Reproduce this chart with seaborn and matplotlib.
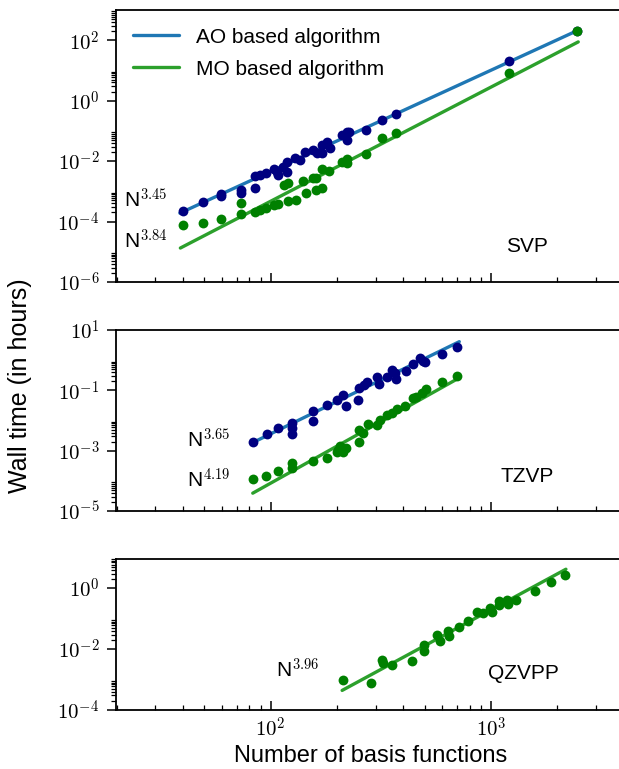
import numpy as np
import pandas as pd
import matplotlib
matplotlib.use("Agg")
import matplotlib.pyplot as plt
import seaborn as sns
from matplotlib.ticker import FuncFormatter, FixedLocator

# ---- data (N = basis functions, t = wall time in hours) ----
svp_ao_n = [39.8, 49.4, 59.5, 59.5, 73.3, 73.3, 84.9, 84.9, 89.4, 94.9, 103.5, 107.1, 108.3, 114,
            119, 119, 128.8, 135.8, 143.2, 156.1, 161.7, 170.4, 170.4, 179.6, 185.9, 210, 221.2,
            221.2, 226.6, 270.8, 319.9, 370.4, 1207, 2449]
svp_ao_t = [2.3e-4, 4.6e-4, 8.1e-4, 6.8e-4, 1.12e-3, 8.7e-4, 3.1e-3, 1.28e-3, 3.5e-3, 4.0e-3,
            5.5e-3, 4.5e-3, 3.5e-3, 6.6e-3, 9.5e-3, 4.3e-3, 1.25e-2, 1.1e-2, 2.05e-2, 2.35e-2,
            1.8e-2, 3.4e-2, 1.8e-2, 4.2e-2, 2.7e-2, 7.3e-2, 9.4e-2, 5.0e-2, 9.0e-2, 1.07e-1,
            2.3e-1, 3.6e-1, 21.0, 198.0]
svp_mo_n = [39.8, 49.4, 59.5, 73.3, 73.3, 84.9, 89.4, 94.9, 103.5, 108.3, 114.9, 120.1, 120.1,
            130.2, 139.8, 144.6, 155.1, 160.0, 160.6, 170.4, 170.4, 184.5, 210, 221.2, 221.2,
            270.8, 319.9, 370.4, 1207, 2449]
svp_mo_t = [7.8e-5, 8.9e-5, 1.2e-4, 1.78e-4, 4.1e-4, 2.05e-4, 2.45e-4, 2.8e-4, 3.4e-4, 3.8e-4,
            1.64e-3, 1.86e-3, 4.9e-4, 5.2e-4, 2.2e-3, 8.7e-4, 2.75e-3, 2.75e-3, 1.12e-3, 1.29e-3,
            5.5e-3, 4.75e-3, 9.6e-3, 1.18e-2, 8.5e-3, 1.7e-2, 5.7e-2, 8.7e-2, 8.3, 198.0]

tzvp_ao_n = [83.4, 95.9, 107.6, 124.5, 124.5, 124.5, 155.1, 155.1, 180.8, 199.4, 213.8, 219.9,
             249.9, 252.6, 265.2, 272.9, 302.9, 311.2, 336.3, 354.2, 366.7, 370.4, 410.1, 441.2,
             476.4, 489.8, 501.4, 601.2, 703.1]
tzvp_ao_t = [2.0e-3, 3.6e-3, 5.6e-3, 8.1e-3, 5.6e-3, 3.5e-3, 2.1e-2, 9.8e-3, 3.3e-2, 4.8e-2,
             7.1e-2, 3.1e-2, 4.8e-2, 1.17e-1, 1.5e-1, 1.95e-1, 2.8e-1, 1.6e-1, 2.8e-1, 4.8e-1,
             3.7e-1, 2.4e-1, 4.4e-1, 7.2e-1, 1.2, 0.93, 0.89, 1.6, 2.7]
tzvp_mo_n = [83.4, 95.3, 107.6, 124.5, 124.5, 155.1, 180.8, 199.4, 202.8, 206.5, 213.8, 219.9,
             252.6, 252.6, 263.3, 275.7, 302.9, 313.4, 336.3, 354.2, 373.3, 407.4, 441.2, 456.6,
             484.7, 507.0, 601.2, 703.1]
tzvp_mo_t = [1.17e-4, 1.5e-4, 2.2e-4, 3.9e-4, 2.75e-4, 4.4e-4, 5.9e-4, 9.3e-4, 1.07e-3, 1.38e-3,
             9.3e-4, 1.2e-3, 2.0e-3, 4.9e-3, 3.8e-3, 7.6e-3, 7.1e-3, 1.05e-2, 1.55e-2, 1.74e-2,
             2.4e-2, 3.1e-2, 5.75e-2, 6.2e-2, 7.9e-2, 1.12e-1, 1.86e-1, 3.1e-1]

qzvpp_n = [213.6, 284.4, 319.2, 322.2, 354.0, 439.4, 498.3, 498.3, 570.6, 586.8, 639.9, 647.0,
           718.2, 788.7, 861.5, 923.3, 989.7, 1007, 1087, 1090, 1178, 1191, 1295, 1584, 1866, 2166]
qzvpp_t = [9.8e-4, 7.9e-4, 4.5e-3, 3.5e-3, 2.9e-3, 4.2e-3, 1.38e-2, 8.7e-3, 2.95e-2, 1.78e-2,
           3.8e-2, 2.6e-2, 5.5e-2, 8.5e-2, 1.7e-1, 1.58e-1, 2.2e-1, 1.7e-1, 3.8e-1, 2.8e-1,
           4.2e-1, 3.0e-1, 4.2e-1, 7.8e-1, 1.58, 2.75]

# fitted power-law lines (end points)
svp_ao_fit = ([38.7, 2449], [1.9e-4, 204.0])
svp_mo_fit = ([38.9, 2489], [1.33e-5, 88.0])
tzvp_ao_fit = ([82.0, 718.0], [1.78e-3, 4.1])
tzvp_mo_fit = ([82.9, 711.0], [3.9e-5, 0.25])
qzvpp_fit = ([211.0, 2188.0], [4.4e-4, 4.2])

exps = {"svp": ("3.45", "3.84"), "tzvp": ("3.65", "4.19"), "qzvpp": "3.96"}

sns.set_style("ticks", {"axes.edgecolor": "black", "text.color": "black",
                        "xtick.color": "black", "ytick.color": "black",
                        "axes.labelcolor": "black"})
plt.rcParams["font.family"] = ["Liberation Sans", "DejaVu Sans"]
plt.rcParams["mathtext.fontset"] = "cm"
plt.rcParams["axes.linewidth"] = 1.3

ao_line = "#1f77b4"
mo_line = "#2ca02c"
ao_dot = "navy"
mo_dot = "green"

fig = plt.figure(figsize=(6.19, 7.69), dpi=100)
W, H = 619.0, 769.0
left, right = 115.5, 626.0
boxes = [(10, 282), (330, 511), (559, 710)]
axes = [fig.add_axes([left / W, 1 - b / H, (right - left) / W, (b - t) / H]) for t, b in boxes]

cm_fmt = FuncFormatter(lambda v, p: r"$10^{%d}$" % int(round(np.log10(v))))


def fit_df(fit):
    return pd.DataFrame({"n": fit[0], "t": fit[1]})


def pts_df(n, t):
    return pd.DataFrame({"n": n, "t": t})


def set_yticks(ax, exps_major):
    # majors every second decade, minor ticks only inside the decade above each major
    ax.set_yticks([10.0 ** e for e in exps_major])
    minors = [s * 10.0 ** e for e in exps_major for s in range(2, 10)]
    ax.yaxis.set_minor_locator(FixedLocator(minors))


# panel 1: SVP
ax = axes[0]
sns.lineplot(data=fit_df(svp_ao_fit), x="n", y="t", ax=ax, color=ao_line, lw=2.4, label="AO based algorithm")
sns.lineplot(data=fit_df(svp_mo_fit), x="n", y="t", ax=ax, color=mo_line, lw=2.4, label="MO based algorithm")
sns.scatterplot(data=pts_df(svp_ao_n, svp_ao_t), x="n", y="t", ax=ax, color=ao_dot, s=50, linewidth=0, zorder=3)
sns.scatterplot(data=pts_df(svp_mo_n, svp_mo_t), x="n", y="t", ax=ax, color=mo_dot, s=50, linewidth=0, zorder=4)
ax.text(21.6, 10 ** -3.28, "N$^{%s}$" % exps["svp"][0], fontsize=15, va="center")
ax.text(21.6, 10 ** -4.63, "N$^{%s}$" % exps["svp"][1], fontsize=15, va="center")
ax.text(1452, 10 ** -4.82, "SVP", fontsize=15, ha="center", va="center")
ax.legend(loc="upper left", frameon=False, fontsize=15, handlelength=2.2, handletextpad=0.8,
          labelspacing=0.62, borderaxespad=0.45, bbox_to_anchor=(0.0, 1.0))

# panel 2: TZVP
ax = axes[1]
sns.lineplot(data=fit_df(tzvp_ao_fit), x="n", y="t", ax=ax, color=ao_line, lw=2.4, legend=False)
sns.lineplot(data=fit_df(tzvp_mo_fit), x="n", y="t", ax=ax, color=mo_line, lw=2.4, legend=False)
sns.scatterplot(data=pts_df(tzvp_ao_n, tzvp_ao_t), x="n", y="t", ax=ax, color=ao_dot, s=50, linewidth=0, zorder=3)
sns.scatterplot(data=pts_df(tzvp_mo_n, tzvp_mo_t), x="n", y="t", ax=ax, color=mo_dot, s=50, linewidth=0, zorder=4)
ax.text(41.7, 10 ** -2.64, "N$^{%s}$" % exps["tzvp"][0], fontsize=15, va="center")
ax.text(41.7, 10 ** -3.97, "N$^{%s}$" % exps["tzvp"][1], fontsize=15, va="center")
ax.text(1460, 10 ** -3.86, "TZVP", fontsize=15, ha="center", va="center")

# panel 3: QZVPP
ax = axes[2]
sns.lineplot(data=fit_df(qzvpp_fit), x="n", y="t", ax=ax, color=mo_line, lw=2.4, legend=False)
sns.scatterplot(data=pts_df(qzvpp_n, qzvpp_t), x="n", y="t", ax=ax, color=mo_dot, s=50, linewidth=0, zorder=4)
ax.text(106, 10 ** -2.68, "N$^{%s}$" % exps["qzvpp"], fontsize=15, va="center")
ax.text(1397, 10 ** -2.81, "QZVPP", fontsize=15, ha="center", va="center")

ylims = [(1e-6, 1e3), (1e-5, 1e1), (1e-4, 9.1)]
majors = [[-6, -4, -2, 0, 2], [-5, -3, -1, 1], [-4, -2, 0]]
for i, ax in enumerate(axes):
    ax.set_xscale("log")
    ax.set_yscale("log")
    set_yticks(ax, majors[i])
    ax.set_ylim(*ylims[i])
    ax.set_xlim(19.75, 4100)
    ax.set_xlabel("")
    ax.set_ylabel("")
    ax.xaxis.set_major_formatter(cm_fmt)
    ax.yaxis.set_major_formatter(cm_fmt)
    ax.tick_params(axis="x", which="both", direction="in", labelsize=15, pad=5)
    ax.tick_params(axis="y", which="both", direction="out", labelsize=15, pad=5)
    ax.tick_params(which="major", length=6.5, width=1.1)
    ax.tick_params(which="minor", length=3.5, width=0.9)
    if i < 2:
        ax.tick_params(axis="x", labelbottom=False)

axes[2].set_xlabel("Number of basis functions", fontsize=17, labelpad=3)
fig.text(20 / W, 1 - 386 / H, "Wall time (in hours)", rotation=90, fontsize=18, ha="center", va="center")

fig.savefig("out.png", dpi=100)
